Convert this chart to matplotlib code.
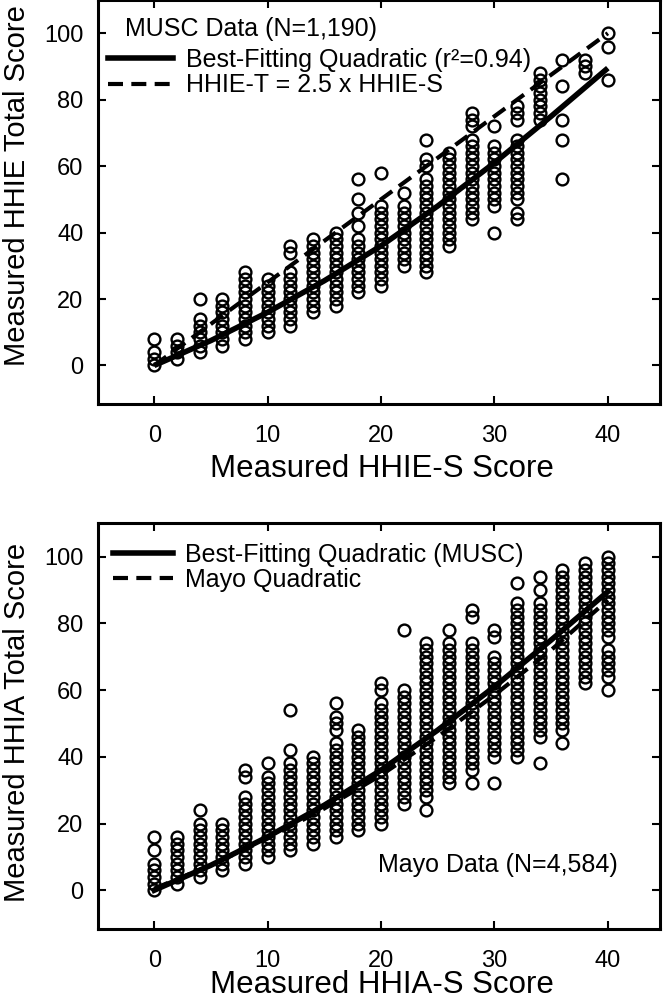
import matplotlib
matplotlib.use('Agg')
import matplotlib.pyplot as plt
from matplotlib.lines import Line2D

regular = ['Liberation Sans', 'DejaVu Sans']
plt.rcParams['font.family'] = regular

# HHIE-S / HHIA-S scores (x columns, same for both panels)
scores_s = [0, 2, 4, 6, 8, 10, 12, 14, 16, 18, 20,
            22, 24, 26, 28, 30, 32, 34, 36, 38, 40]

# MUSC data: HHIE total scores seen in each column
musc_t = [
    [0, 2, 4, 8],
    [2, 4, 6, 8],
    [4, 6, 8, 10, 12, 14, 20],
    [6, 8, 10, 12, 14, 16, 18, 20],
    [8, 10, 12, 14, 16, 18, 20, 22, 24, 26, 28],
    [10, 12, 14, 16, 18, 20, 22, 24, 26],
    [12, 14, 16, 18, 20, 22, 24, 26, 28, 34, 36],
    [16, 18, 20, 22, 24, 26, 28, 30, 32, 34, 36, 38],
    [18, 20, 22, 24, 26, 28, 30, 32, 34, 36, 38, 40],
    [22, 24, 26, 28, 30, 32, 34, 36, 38, 42, 46, 50, 56],
    [24, 26, 28, 30, 32, 34, 36, 38, 40, 42, 44, 46, 48, 58],
    [30, 32, 34, 36, 38, 40, 42, 44, 46, 48, 52],
    [28, 30, 32, 34, 36, 38, 40, 42, 44, 46, 48, 50, 52, 54, 56, 60, 62, 68],
    [36, 38, 40, 42, 44, 46, 48, 50, 52, 54, 56, 58, 60, 62, 64],
    [44, 46, 48, 50, 52, 54, 56, 58, 60, 62, 64, 66, 68, 72, 74, 76],
    [40, 48, 50, 52, 54, 56, 58, 60, 62, 64, 66, 72],
    [44, 46, 50, 52, 54, 56, 58, 60, 62, 64, 66, 68, 74, 76, 78],
    [74, 76, 78, 80, 82, 84, 86, 88],
    [56, 68, 74, 84, 92],
    [88, 90, 92],
    [86, 96, 100],
]

# Mayo data: HHIA total scores seen in each column
mayo_t = [
    [0, 2, 4, 6, 8, 12, 16],
    [2, 4, 6, 8, 10, 12, 14, 16],
    [4, 6, 8, 10, 12, 14, 16, 18, 20, 24],
    [6, 8, 10, 12, 14, 16, 18, 20],
    [8, 10, 12, 14, 16, 18, 20, 22, 24, 26, 28, 34, 36],
    [10, 12, 14, 16, 18, 20, 22, 24, 26, 28, 30, 32, 34, 38],
    [12, 14, 16, 18, 20, 22, 24, 26, 28, 30, 32, 34, 36, 38, 42, 54],
    [14, 16, 18, 20, 22, 24, 26, 28, 30, 32, 34, 36, 38, 40],
    [16, 18, 20, 22, 24, 26, 28, 30, 32, 34, 36, 38, 40, 42, 44, 48, 50, 52, 56],
    [18, 20, 22, 24, 26, 28, 30, 32, 34, 36, 38, 40, 42, 44, 46, 48],
    [20, 22, 24, 26, 28, 30, 32, 34, 36, 38, 40, 42, 44, 46, 48, 50, 52, 54, 56,
     60, 62],
    [26, 28, 30, 32, 34, 36, 38, 40, 42, 44, 46, 48, 50, 52, 54, 56, 58, 60, 78],
    [24, 28, 30, 32, 34, 36, 38, 40, 42, 44, 46, 48, 50, 52, 54, 56, 58, 60, 62,
     64, 66, 68, 70, 72, 74],
    [32, 34, 36, 38, 40, 42, 44, 46, 48, 50, 52, 54, 56, 58, 60, 62, 64, 66, 68,
     70, 72, 74, 78],
    [32, 36, 38, 40, 42, 44, 46, 48, 50, 52, 54, 56, 58, 60, 62, 64, 66, 68, 70,
     72, 74, 82, 84],
    [32, 40, 42, 44, 46, 48, 50, 52, 54, 56, 58, 60, 62, 64, 66, 68, 70, 76, 78],
    [40, 42, 44, 46, 48, 50, 52, 54, 56, 58, 60, 62, 64, 66, 68, 70, 72, 74, 76,
     78, 80, 82, 84, 86, 92],
    [38, 46, 48, 50, 52, 54, 56, 58, 60, 62, 64, 66, 68, 70, 72, 74, 76, 78, 80,
     82, 84, 86, 90, 94],
    [44, 48, 50, 52, 54, 56, 58, 60, 62, 64, 66, 68, 70, 72, 74, 76, 78, 80, 82,
     84, 86, 88, 90, 92, 94, 96],
    [62, 64, 66, 68, 70, 72, 74, 76, 78, 80, 82, 84, 86, 88, 90, 92, 94, 96, 98],
    [60, 64, 66, 68, 70, 72, 76, 78, 80, 82, 84, 86, 88, 90, 92, 94, 96, 98, 100],
]

# curves
curve_x = [0, 5, 10, 15, 20, 25, 30, 35, 40]
musc_fit = [0, 7.5, 16, 25.5, 36, 48, 61, 75, 89.5]
mayo_fit = [0.5, 7.5, 15.5, 24.5, 34.5, 46, 58.5, 72, 87]
ratio_x = [0, 40]
ratio_y = [0, 100]

DASH = (0, (3.6, 2.0))


def style_axes(ax):
    ax.set_xlim(-5, 44.6)
    ax.set_ylim(-11.6, 110)
    ax.set_xticks([0, 10, 20, 30, 40])
    ax.set_yticks([0, 20, 40, 60, 80, 100])
    ax.tick_params(axis='both', direction='in', top=True, right=True,
                   length=6, width=1.5, labelsize=17)
    ax.tick_params(axis='x', pad=15)
    ax.tick_params(axis='y', pad=10)
    for s in ax.spines.values():
        s.set_linewidth(2.2)


def draw_columns(ax, cols):
    for x, ys in zip(scores_s, cols):
        ax.plot([x] * len(ys), ys, 'o', mfc='none', mec='black',
                ms=8.5, mew=1.7, zorder=2)


fig = plt.figure(figsize=(6.66, 10.07), dpi=100)

# ---- top panel: MUSC ----
ax1 = fig.add_axes([0.1464, 0.5988, 0.8446, 0.4012])
draw_columns(ax1, musc_t)
ax1.plot(curve_x, musc_fit, color='black', lw=4.0, zorder=3,
         solid_capstyle='butt')
ax1.plot(ratio_x, ratio_y, color='black', lw=3.0, ls=DASH, zorder=3)
style_axes(ax1)
ax1.set_xlabel('Measured HHIE-S Score', fontsize=22.5)
ax1.set_ylabel('Measured HHIE Total Score', fontsize=21)
ax1.xaxis.set_label_coords(0.506, -0.124)
ax1.yaxis.set_label_coords(-0.118, 0.54)
ax1.text(0.049, 0.928, 'MUSC Data (N=1,190)', transform=ax1.transAxes,
         ha='left', va='center', fontsize=18)
h1 = [Line2D([], [], color='black', lw=4.0),
      Line2D([], [], color='black', lw=3.0, ls=DASH)]
ax1.legend(h1, ['Best-Fitting Quadratic (r²=0.94)', 'HHIE-T = 2.5 x HHIE-S'],
           loc='upper left', bbox_to_anchor=(0.019, 0.881), frameon=False,
           borderaxespad=0, borderpad=0, handlelength=2.6, handletextpad=0.5,
           labelspacing=0.05, prop={'size': 18})

# ---- bottom panel: Mayo ----
ax2 = fig.add_axes([0.1464, 0.0775, 0.8446, 0.4029])
draw_columns(ax2, mayo_t)
ax2.plot(curve_x, musc_fit, color='black', lw=4.0, zorder=3)
ax2.plot(curve_x, mayo_fit, color='black', lw=3.0, ls=DASH, zorder=3)
style_axes(ax2)
ax2.set_xlabel('Measured HHIA-S Score', fontsize=22.5)
ax2.set_ylabel('Measured HHIA Total Score', fontsize=21)
ax2.xaxis.set_label_coords(0.506, -0.101)
ax2.yaxis.set_label_coords(-0.118, 0.51)
ax2.text(0.925, 0.158, 'Mayo Data (N=4,584)', transform=ax2.transAxes,
         ha='right', va='center', fontsize=18)
h2 = [Line2D([], [], color='black', lw=4.0),
      Line2D([], [], color='black', lw=3.0, ls=DASH)]
ax2.legend(h2, ['Best-Fitting Quadratic (MUSC)', 'Mayo Quadratic'],
           loc='upper left', bbox_to_anchor=(0.027, 0.952), frameon=False,
           borderaxespad=0, borderpad=0, handlelength=2.4, handletextpad=0.5,
           labelspacing=0.05, prop={'size': 18})

fig.savefig('out.png', dpi=100)
